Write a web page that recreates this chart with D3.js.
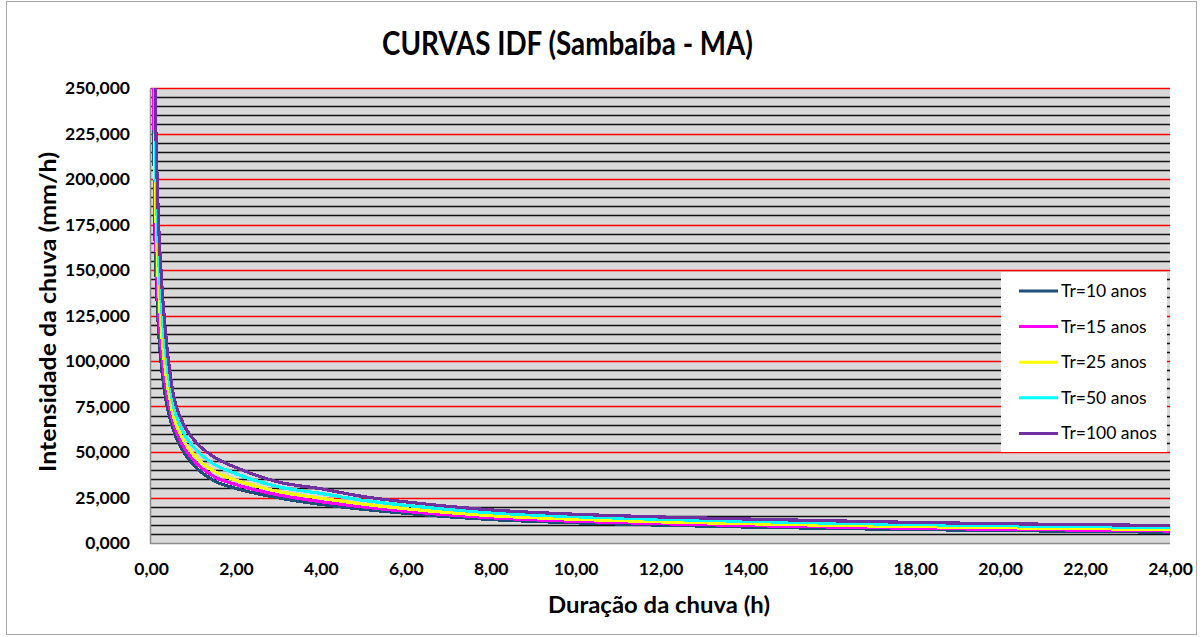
<!DOCTYPE html>
<html>
<head>
<meta charset="utf-8">
<script src="https://cdn.jsdelivr.net/npm/d3@7"></script>
<style>
  html, body { margin: 0; padding: 0; background: #fff; }
  svg { display: block; font-family: Lato, "Open Sans", sans-serif; }
</style>
</head>
<body>
<svg id="chart" width="1203" height="637"></svg>
<script>
// Duração (h) e intensidades (mm/h) para cada período de retorno
const duracoes = [0.0333, 0.0833, 0.1667, 0.25, 0.3333, 0.5, 0.75, 1, 1.5, 2, 3, 4, 5, 6, 8, 10, 12, 14, 16, 18, 20, 22, 24];
const tr10  = [310, 182, 122, 96, 81, 64, 50.8, 43, 34, 30, 24.8, 21.2, 18.5, 16.3, 12.9, 11.1, 9.8, 8.8, 8.0, 7.4, 6.85, 6.4, 5.9];
const tr15  = [339, 198.7, 133.2, 104.6, 87.7, 67.8, 53.5, 45.5, 36.3, 32.1, 26.4, 22.7, 19.8, 17.4, 13.9, 11.9, 10.6, 9.6, 8.8, 8.1, 7.5, 7.1, 6.6];
const tr25  = [374, 219.2, 146.8, 115.2, 95.8, 72.4, 56.9, 48.6, 39.2, 34.6, 28.3, 24.6, 21.3, 18.8, 15.0, 13.0, 11.6, 10.6, 9.7, 9.0, 8.4, 7.9, 7.4];
const tr50  = [422, 247.1, 165.4, 129.6, 106.9, 78.7, 61.4, 52.8, 43.1, 38.1, 30.9, 27.2, 23.4, 20.7, 16.6, 14.4, 13.0, 11.9, 10.9, 10.1, 9.5, 9.0, 8.5];
const tr100 = [470, 275, 184, 144, 118, 85, 66, 57, 47, 41.5, 33.5, 29.8, 25.5, 22.6, 18.2, 15.8, 14.3, 13.2, 12.2, 11.3, 10.6, 10.1, 9.6];

const seriesNames = ["Tr=10 anos", "Tr=15 anos", "Tr=25 anos", "Tr=50 anos", "Tr=100 anos"];
const seriesColors = ["#1F4E79", "#FF00FF", "#FFFF00", "#00FFFF", "#7030A0"];
const seriesValues = [tr10, tr15, tr25, tr50, tr100];

const xTicks = [0, 2, 4, 6, 8, 10, 12, 14, 16, 18, 20, 22, 24];
const yTicks = [0, 25, 50, 75, 100, 125, 150, 175, 200, 225, 250];
const yMinor = d3.range(0, 251, 5);

const ptBR = d3.formatLocale({ decimal: ",", thousands: ".", grouping: [3], currency: ["R$", ""] });
const fmtY = ptBR.format(".3f");
const fmtX = ptBR.format(".2f");

const svg = d3.select("#chart");
const plotL = 151, plotR = 1170, plotT = 88, plotB = 543;

const x = d3.scaleLinear().domain([0, 24]).range([plotL, plotR]);
const y = d3.scaleLinear().domain([0, 250]).range([plotB, plotT]);

// Moldura do gráfico
svg.append("rect")
  .attr("x", 6.5).attr("y", 1.5)
  .attr("width", 1190).attr("height", 633)
  .attr("fill", "#fff").attr("stroke", "#A6A6A6").attr("stroke-width", 1);

// Área de plotagem
svg.append("rect")
  .attr("x", plotL).attr("y", plotT)
  .attr("width", plotR - plotL).attr("height", plotB - plotT)
  .attr("fill", "#D9D9D9");

// Linhas de grade secundárias (pretas) e principais (vermelhas)
svg.append("g").selectAll("line")
  .data(yMinor.filter(v => v % 25 !== 0))
  .join("line")
  .attr("x1", plotL).attr("x2", plotR)
  .attr("y1", d => Math.round(y(d)) + 0.5).attr("y2", d => Math.round(y(d)) + 0.5)
  .attr("stroke", "#111").attr("stroke-width", 1.3);

svg.append("g").selectAll("line")
  .data(yTicks.filter(v => v > 0))
  .join("line")
  .attr("x1", plotL).attr("x2", plotR)
  .attr("y1", d => Math.round(y(d)) + 0.5).attr("y2", d => Math.round(y(d)) + 0.5)
  .attr("stroke", "#FF0000").attr("stroke-width", 1.3);

// Eixos
svg.append("line")
  .attr("x1", plotL - 0.5).attr("x2", plotL - 0.5)
  .attr("y1", plotT).attr("y2", plotB + 1)
  .attr("stroke", "#8C8C8C").attr("stroke-width", 1.5);
svg.append("line")
  .attr("x1", plotL - 1).attr("x2", plotR)
  .attr("y1", plotB + 0.5).attr("y2", plotB + 0.5)
  .attr("stroke", "#8C8C8C").attr("stroke-width", 1.5);

const yAxis = svg.append("g")
  .attr("transform", `translate(${plotL},0)`)
  .call(d3.axisLeft(y).tickValues(yTicks).tickSize(0).tickPadding(21).tickFormat(fmtY));
yAxis.select(".domain").remove();
yAxis.selectAll("text")
  .attr("font-family", "Lato, sans-serif")
  .attr("font-size", 17.5).attr("font-weight", "bold").attr("fill", "#000");

const xAxis = svg.append("g")
  .attr("transform", `translate(0,${plotB})`)
  .call(d3.axisBottom(x).tickValues(xTicks).tickSize(0).tickPadding(20).tickFormat(fmtX));
xAxis.select(".domain").remove();
xAxis.selectAll("text")
  .attr("font-family", "Lato, sans-serif")
  .attr("font-size", 17.5).attr("font-weight", "bold").attr("fill", "#000");

// Curvas IDF
svg.append("defs").append("clipPath").attr("id", "plotClip")
  .append("rect").attr("x", plotL).attr("y", plotT)
  .attr("width", plotR - plotL).attr("height", plotB - plotT);

const line = d3.line()
  .x(d => x(d[0]))
  .y(d => y(d[1]))
  .curve(d3.curveMonotoneX);

const curves = svg.append("g").attr("clip-path", "url(#plotClip)");
seriesValues.forEach((vals, i) => {
  curves.append("path")
    .datum(duracoes.map((t, j) => [t, vals[j]]))
    .attr("d", line)
    .attr("fill", "none")
    .attr("stroke", seriesColors[i])
    .attr("stroke-width", 3.2)
    .attr("stroke-linejoin", "round")
    .attr("shape-rendering", "crispEdges");
});

// Legenda
const lg = svg.append("g");
lg.append("rect")
  .attr("x", 1001).attr("y", 272)
  .attr("width", 166).attr("height", 180)
  .attr("fill", "#fff");
seriesNames.forEach((name, i) => {
  const cy = 291 + i * 35.6;
  lg.append("line")
    .attr("x1", 1019).attr("x2", 1058)
    .attr("y1", cy).attr("y2", cy)
    .attr("stroke", seriesColors[i]).attr("stroke-width", 3);
  lg.append("text")
    .attr("x", 1061).attr("y", cy + 6)
    .attr("font-size", 17.5).attr("fill", "#000")
    .text(name);
});

// Títulos
svg.append("text")
  .attr("x", 382).attr("y", 55)
  .attr("font-size", 32).attr("font-weight", "bold")
  .attr("textLength", 371).attr("lengthAdjust", "spacingAndGlyphs")
  .text("CURVAS IDF (Sambaíba - MA)");

svg.append("text")
  .attr("x", 548).attr("y", 613)
  .attr("font-size", 22).attr("font-weight", "bold")
  .attr("textLength", 222).attr("lengthAdjust", "spacingAndGlyphs")
  .text("Duração da chuva  (h)");

svg.append("text")
  .attr("transform", "translate(56,472) rotate(-90)")
  .attr("font-size", 22).attr("font-weight", "bold")
  .attr("textLength", 320).attr("lengthAdjust", "spacingAndGlyphs")
  .text("Intensidade da chuva  (mm/h)");
</script>
</body>
</html>
